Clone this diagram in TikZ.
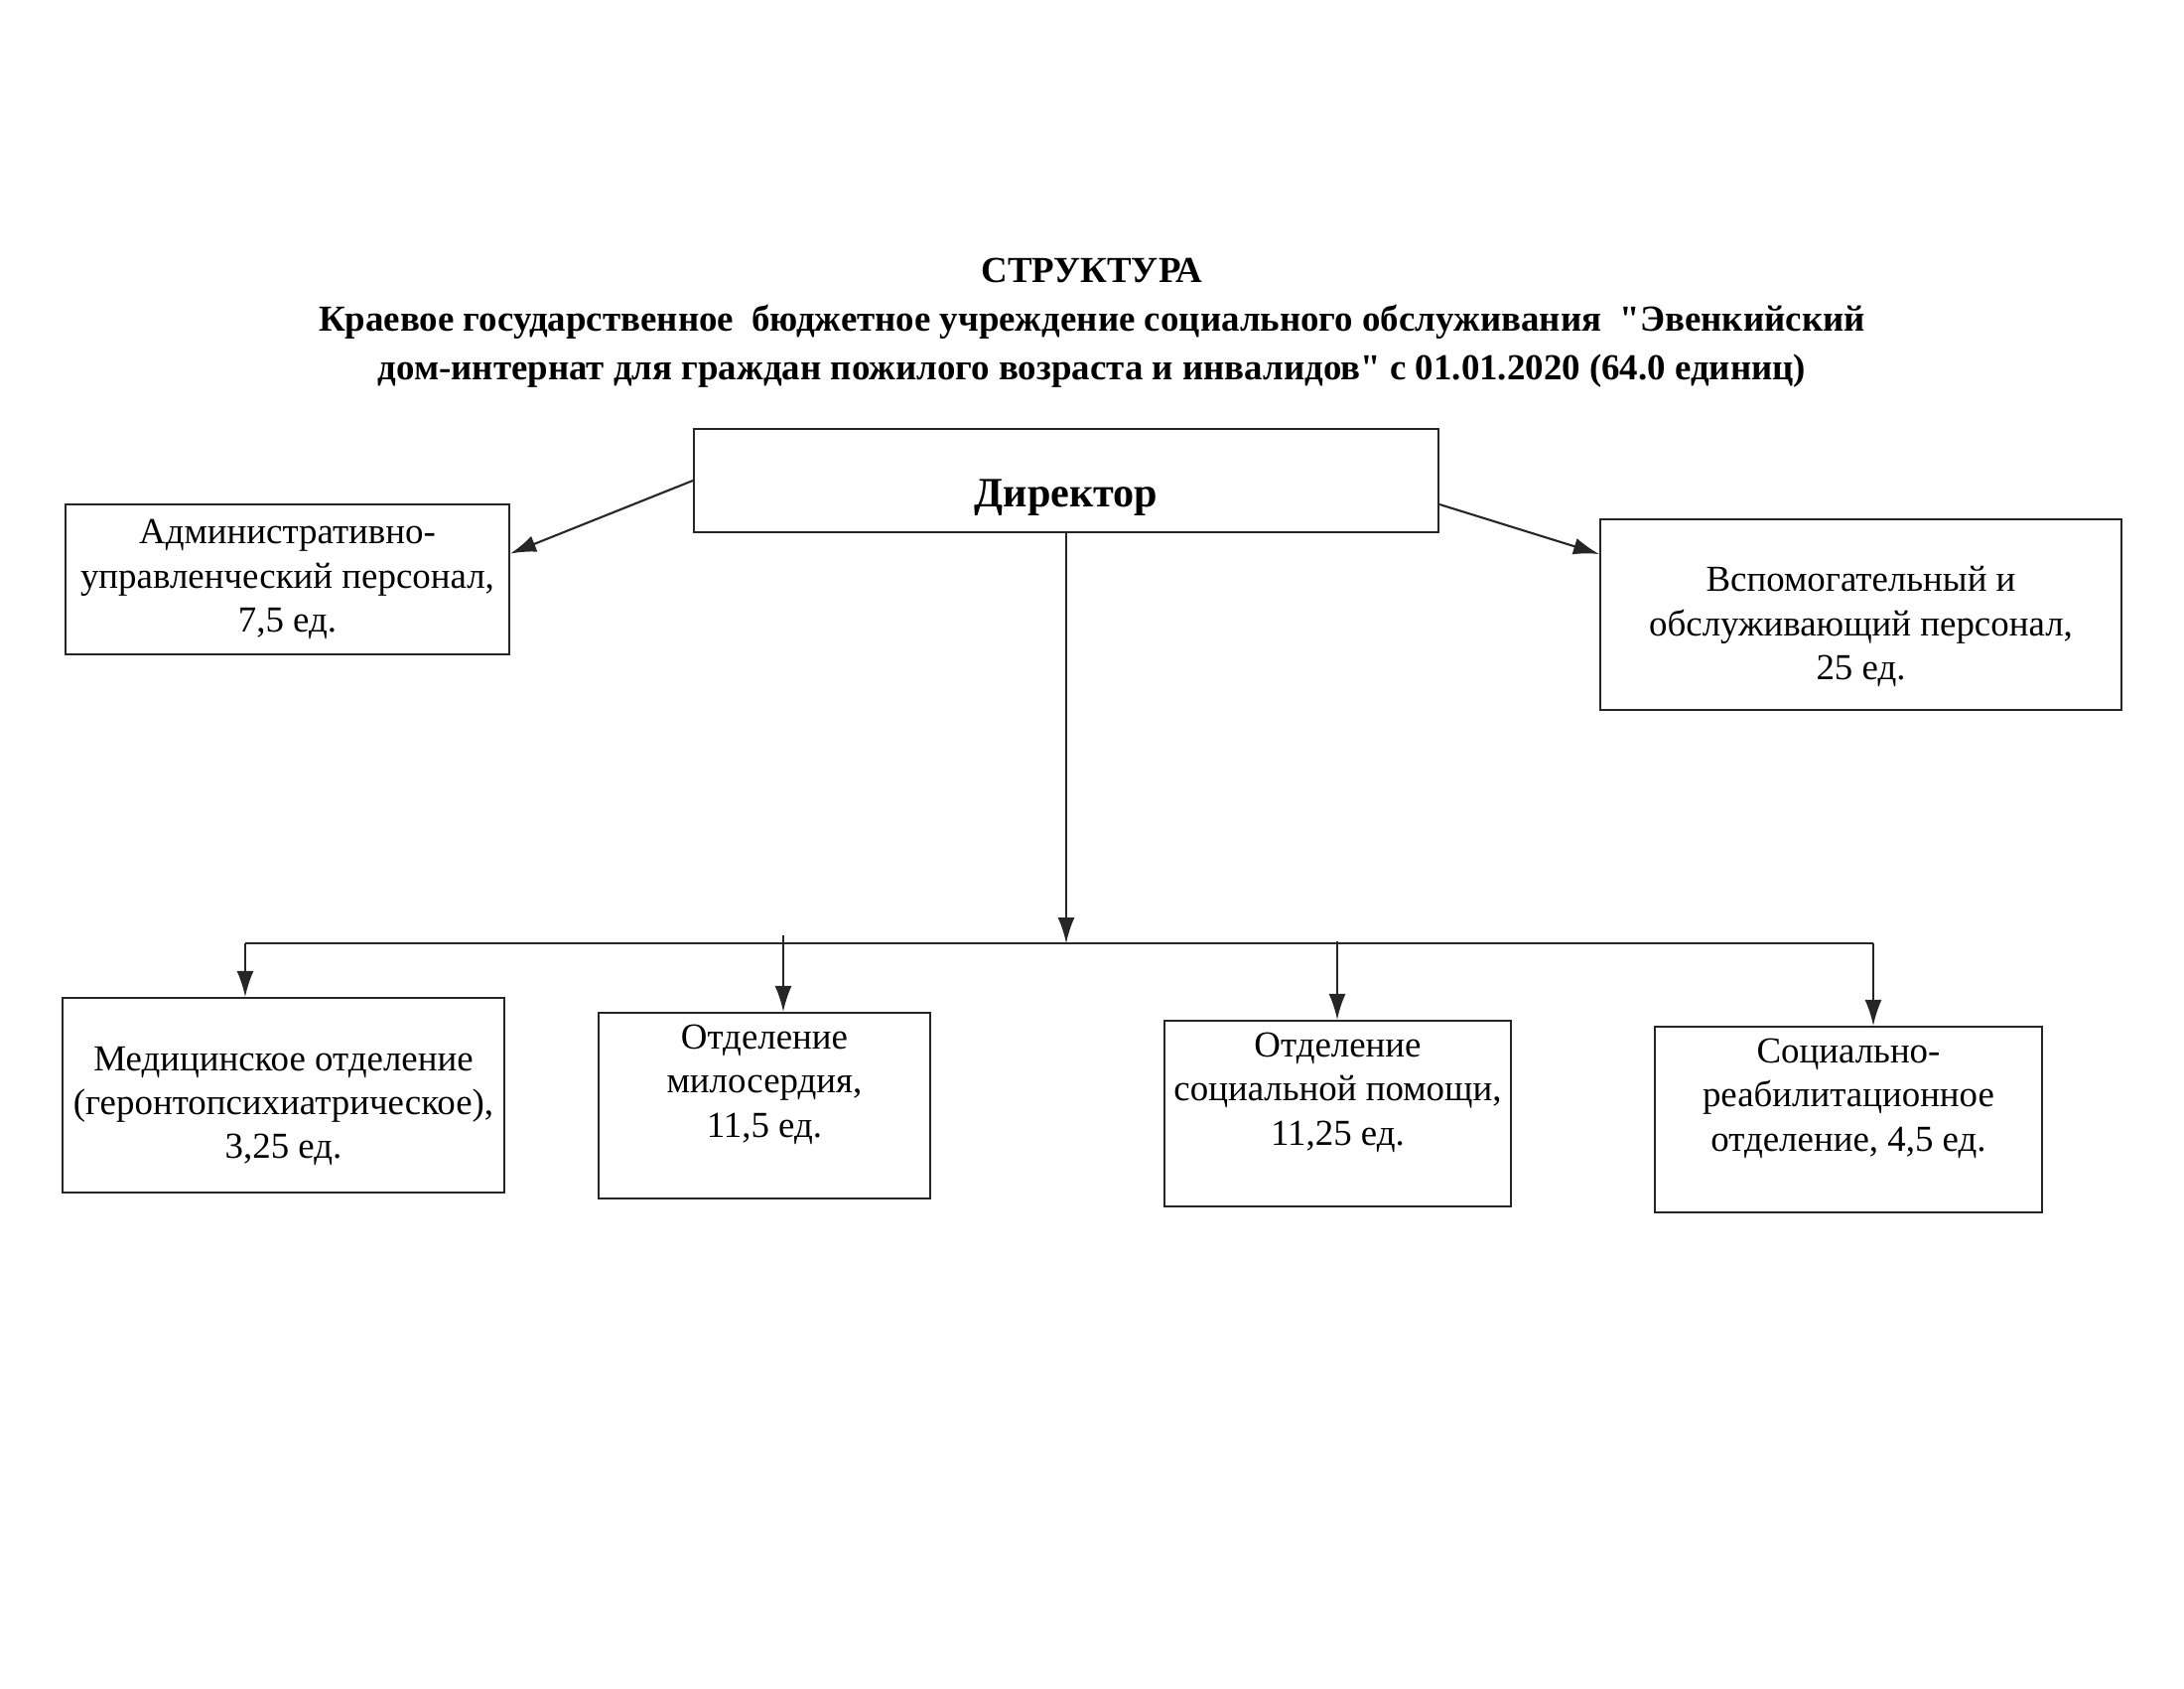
\documentclass[tikz,border=0pt]{standalone}
\usepackage{fontspec}
\setmainfont{Liberation Serif}[Ligatures=TeXOff]
\usepackage{tikz}
\usetikzlibrary{arrows.meta, positioning}

\begin{document}
\begin{tikzpicture}[
  font=\fontsize{10.5}{12.6}\selectfont,
  unitbox/.style={
    draw=black!85,
    line width=0.6pt,
    align=center,
    inner sep=2pt
  },
  topbox/.style={
    unitbox,
    text depth=0.5cm
  },
  lowbox/.style={
    unitbox,
    text height=#1
  },
  arr/.style={
    draw=black!85,
    line width=0.6pt,
    -{Latex[length=2.6mm,width=1.7mm]}
  },
  busline/.style={
    draw=black!85,
    line width=0.6pt
  }
]

\useasboundingbox (0,0) rectangle (22,-17);

% Title
\node[
  font=\bfseries\fontsize{10.5}{14}\selectfont,
  align=center
] (title) at (11.0,-3.25)
{СТРУКТУРА\\
Краевое государственное\ \ бюджетное учреждение социального обслуживания\ \ "Эвенкийский\\
дом-интернат для граждан пожилого возраста и инвалидов" с 01.01.2020 (64.0 единиц)};

% ---------------- Top level ----------------
\node[
  unitbox,
  font=\bfseries\fontsize{12}{14}\selectfont,
  text height=0.62cm,
  minimum width=7.5cm,
  minimum height=1.04cm
] (dir) at (10.74,-4.84) {Директор};

\node[unitbox, minimum width=4.47cm, minimum height=1.51cm] (adm) at (2.895,-5.835)
{Административно-\\управленческий персонал,\\7,5 ед.};

\node[lowbox=1.38cm, minimum width=5.25cm, minimum height=1.92cm] (aux) at (18.745,-6.19)
{Вспомогательный и\\обслуживающий персонал,\\25 ед.};

\draw[arr] (dir.west) -- ([yshift=2.6mm]adm.east);
\draw[arr] ([yshift=-2.4mm]dir.east) -- ([yshift=6.1mm]aux.west);

% ---------------- Departments ----------------
\node[lowbox=1.35cm, minimum width=4.45cm, minimum height=1.96cm] (med) at (2.855,-11.03)
{Медицинское отделение\\(геронтопсихиатрическое),\\3,25 ед.};

\node[topbox, minimum width=3.34cm, minimum height=1.87cm] (mil) at (7.70,-11.135)
{Отделение\\милосердия,\\11,5 ед.};

\node[topbox, minimum width=3.49cm, minimum height=1.87cm] (soc) at (13.475,-11.215)
{Отделение\\социальной помощи,\\11,25 ед.};

\node[topbox, minimum width=3.90cm, minimum height=1.87cm] (reab) at (18.62,-11.275)
{Социально-\\реабилитационное\\отделение, 4,5 ед.};

% Bus
\coordinate (busL) at (2.47,-9.50);
\coordinate (busR) at (18.87,-9.50);
\coordinate (tapM) at (7.89,-9.42);
\coordinate (tapS) at (13.47,-9.48);

\draw[busline] (busL) -- (busR);
\draw[arr] (dir.south) -- (dir.south |- busL);

\draw[arr] (busL) -- (busL |- med.north);
\draw[arr] (tapM) -- (tapM |- mil.north);
\draw[arr] (tapS) -- (tapS |- soc.north);
\draw[arr] (busR) -- (busR |- reab.north);

\end{tikzpicture}
\end{document}
